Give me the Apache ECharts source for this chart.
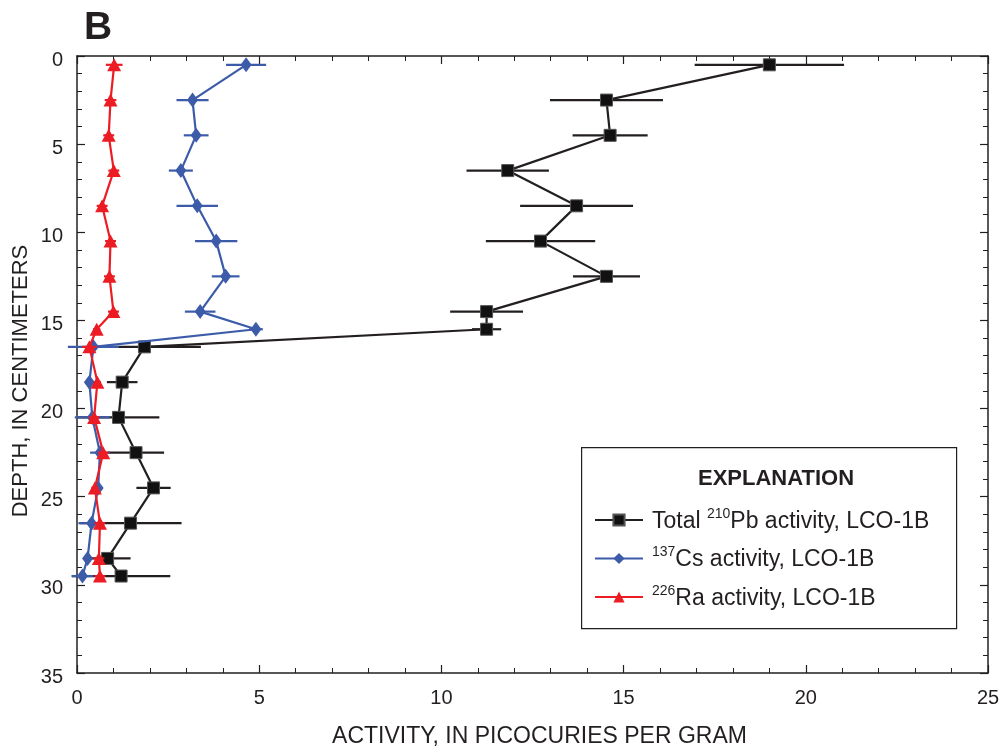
<!DOCTYPE html>
<html>
<head>
<meta charset="utf-8">
<script src="https://cdn.jsdelivr.net/npm/echarts@6/dist/echarts.min.js"></script>
<style>html,body{margin:0;padding:0;background:#fff}#c{width:1003px;height:747px}</style>
</head>
<body>
<div id="c"></div>
<script>
// Depths (cm)
var depths = [0.5, 2.5, 4.5, 6.5, 8.5, 10.5, 12.5, 14.5, 15.5, 16.5, 18.5, 20.5, 22.5, 24.5, 26.5, 28.5, 29.5];
// Total 210Pb activity
var pbValues = [19.0, 14.53, 14.63, 11.82, 13.71, 12.72, 14.53, 11.24, 11.24, 1.85, 1.24, 1.14, 1.62, 2.10, 1.47, 0.84, 1.21];
var pbErrors = [2.05, 1.55, 1.03, 1.13, 1.55, 1.5, 0.92, 1.0, 0.4, 1.55, 0.42, 1.12, 0.77, 0.47, 1.4, 0.63, 1.35];
// 137Cs activity
var csValues = [4.64, 3.17, 3.27, 2.85, 3.30, 3.82, 4.08, 3.38, 4.91, 0.45, 0.34, 0.42, 0.63, 0.58, 0.40, 0.29, 0.15];
var csErrors = [0.55, 0.44, 0.34, 0.33, 0.57, 0.58, 0.38, 0.42, 0.19, 0.7, 0.1, 0.48, 0.27, 0.1, 0.36, 0.1, 0.3];
// 226Ra activity
var raValues = [1.02, 0.92, 0.87, 1.01, 0.69, 0.92, 0.89, 1.0, 0.54, 0.34, 0.56, 0.47, 0.72, 0.49, 0.63, 0.60, 0.63];
var raErrors = [0.23, 0.16, 0.15, 0.15, 0.15, 0.15, 0.15, 0.15, 0.1, 0.2, 0.1, 0.15, 0.15, 0.1, 0.15, 0.15, 0.15];

var seriesNames = ['Total 210Pb activity, LCO-1B', '137Cs activity, LCO-1B', '226Ra activity, LCO-1B'];
var xTicks = [0, 5, 10, 15, 20, 25];
var yTicks = [0, 5, 10, 15, 20, 25, 30, 35];

var INK = '#231f20';
var FONT = 'Liberation Sans';
var colors = ['#231f20', '#3c5ba9', '#ec1c24'];

function pts(vals) { return vals.map(function (v, i) { return [v, depths[i]]; }); }
function bars(vals, errs) { return vals.map(function (v, i) { return [v - errs[i], v + errs[i], depths[i]]; }); }

function errSeries(vals, errs, color, z) {
  return {
    type: 'custom', xAxisIndex: 0, yAxisIndex: 0, silent: true, clip: false, z: z,
    data: bars(vals, errs),
    encode: { x: [0, 1], y: 2 },
    renderItem: function (params, api) {
      var a = api.coord([api.value(0), api.value(2)]);
      var b = api.coord([api.value(1), api.value(2)]);
      return { type: 'line', shape: { x1: a[0], y1: a[1], x2: b[0], y2: a[1] }, style: { stroke: color, lineWidth: 2.2 } };
    }
  };
}

function axisCommon() {
  return {
    axisLine: { show: true, onZero: false, lineStyle: { color: INK, width: 1.5 } },
    axisTick: { show: true, inside: true, length: 8, lineStyle: { color: INK, width: 1.2 } },
    minorTick: { show: true, splitNumber: 5, length: 5, lineStyle: { color: INK, width: 1 } },
    splitLine: { show: false }
  };
}

var chart = echarts.init(document.getElementById('c'), null, { renderer: 'canvas' });
var sup = { fontSize: 14, verticalAlign: 'top', lineHeight: 16, color: INK, fontFamily: FONT };
var nrm = { fontSize: 23, lineHeight: 26, color: INK, fontFamily: FONT, verticalAlign: 'bottom' };

chart.setOption({
  animation: false,
  backgroundColor: '#fff',
  textStyle: { fontFamily: FONT, color: INK },
  grid: { left: 77, top: 56, right: 15, bottom: 74, containLabel: false, outerBoundsMode: 'none' },
  xAxis: [
    Object.assign({
      type: 'value', position: 'bottom', min: xTicks[0], max: xTicks[xTicks.length - 1], interval: 5,
      name: 'ACTIVITY, IN PICOCURIES PER GRAM', nameLocation: 'middle', nameGap: 52,
      nameTextStyle: { fontSize: 23, color: INK, fontFamily: FONT, padding: [0, 0, 0, 14] },
      axisLabel: { fontSize: 20, color: INK, margin: 15, fontFamily: FONT }
    }, axisCommon()),
    Object.assign({
      type: 'value', position: 'top', min: xTicks[0], max: xTicks[xTicks.length - 1], interval: 5,
      axisLabel: { show: false }
    }, axisCommon())
  ],
  yAxis: [
    Object.assign({
      type: 'value', position: 'left', inverse: true, min: yTicks[0], max: yTicks[yTicks.length - 1], interval: 5,
      axisLabel: {
        fontSize: 20, color: INK, margin: 14, fontFamily: FONT,
        formatter: function (v) { return '{a|' + v + '}'; },
        rich: { a: { fontSize: 20, color: INK, fontFamily: FONT, padding: [8, 0, 0, 0] } }
      }
    }, axisCommon()),
    Object.assign({
      type: 'value', position: 'right', inverse: true, min: yTicks[0], max: yTicks[yTicks.length - 1], interval: 5,
      axisLabel: { show: false }
    }, axisCommon())
  ],
  legend: {
    show: true, orient: 'vertical', left: 594, top: 507, itemWidth: 48, itemHeight: 14, itemGap: 12.5,
    selectedMode: false, padding: 0,
    data: seriesNames,
    formatter: function (name) {
      var m = name.match(/^(Total )?(\d+)(.*)$/);
      return (m[1] ? '{n|' + m[1] + '}' : '') + '{s|' + m[2] + '}{n|' + m[3] + '}';
    },
    textStyle: { fontSize: 23, color: INK, padding: [0, 0, 0, 4], rich: { n: nrm, s: sup } }
  },
  graphic: [
    { type: 'text', left: 84, top: 9, style: { text: 'B', font: 'bold 39px "Liberation Sans"', fill: INK } },
    { type: 'text', x: 21, y: 381, rotation: Math.PI / 2,
      style: { text: 'DEPTH, IN CENTIMETERS', font: '22px "Liberation Sans"', fill: INK, textAlign: 'center', textVerticalAlign: 'middle' } },
    { type: 'rect', left: 581, top: 447, shape: { width: 375, height: 181 }, style: { fill: '#fff', stroke: INK, lineWidth: 1.2 }, z: 0 },
    { type: 'text', x: 776, y: 479, style: { text: 'EXPLANATION', font: 'bold 22px "Liberation Sans"', fill: INK, textAlign: 'center', textVerticalAlign: 'middle' }, z: 1 }
  ],
  series: [
    errSeries(pbValues, pbErrors, colors[0], 2),
    {
      name: seriesNames[0], type: 'line', xAxisIndex: 0, yAxisIndex: 0, data: pts(pbValues),
      symbol: 'rect', symbolSize: 12, lineStyle: { color: colors[0], width: 2.2 },
      itemStyle: { color: '#111', borderColor: '#555', borderWidth: 1 }, color: colors[0], z: 3
    },
    errSeries(csValues, csErrors, colors[1], 4),
    {
      name: seriesNames[1], type: 'line', xAxisIndex: 0, yAxisIndex: 0, data: pts(csValues),
      symbol: 'diamond', symbolSize: [11, 15], lineStyle: { color: colors[1], width: 2.2 },
      itemStyle: { color: colors[1] }, color: colors[1], z: 5
    },
    errSeries(raValues, raErrors, colors[2], 6),
    {
      name: seriesNames[2], type: 'line', xAxisIndex: 0, yAxisIndex: 0, data: pts(raValues),
      symbol: 'triangle', symbolSize: [14, 13], lineStyle: { color: colors[2], width: 2.2 },
      itemStyle: { color: colors[2] }, color: colors[2], z: 7
    }
  ]
});
</script>
</body>
</html>
